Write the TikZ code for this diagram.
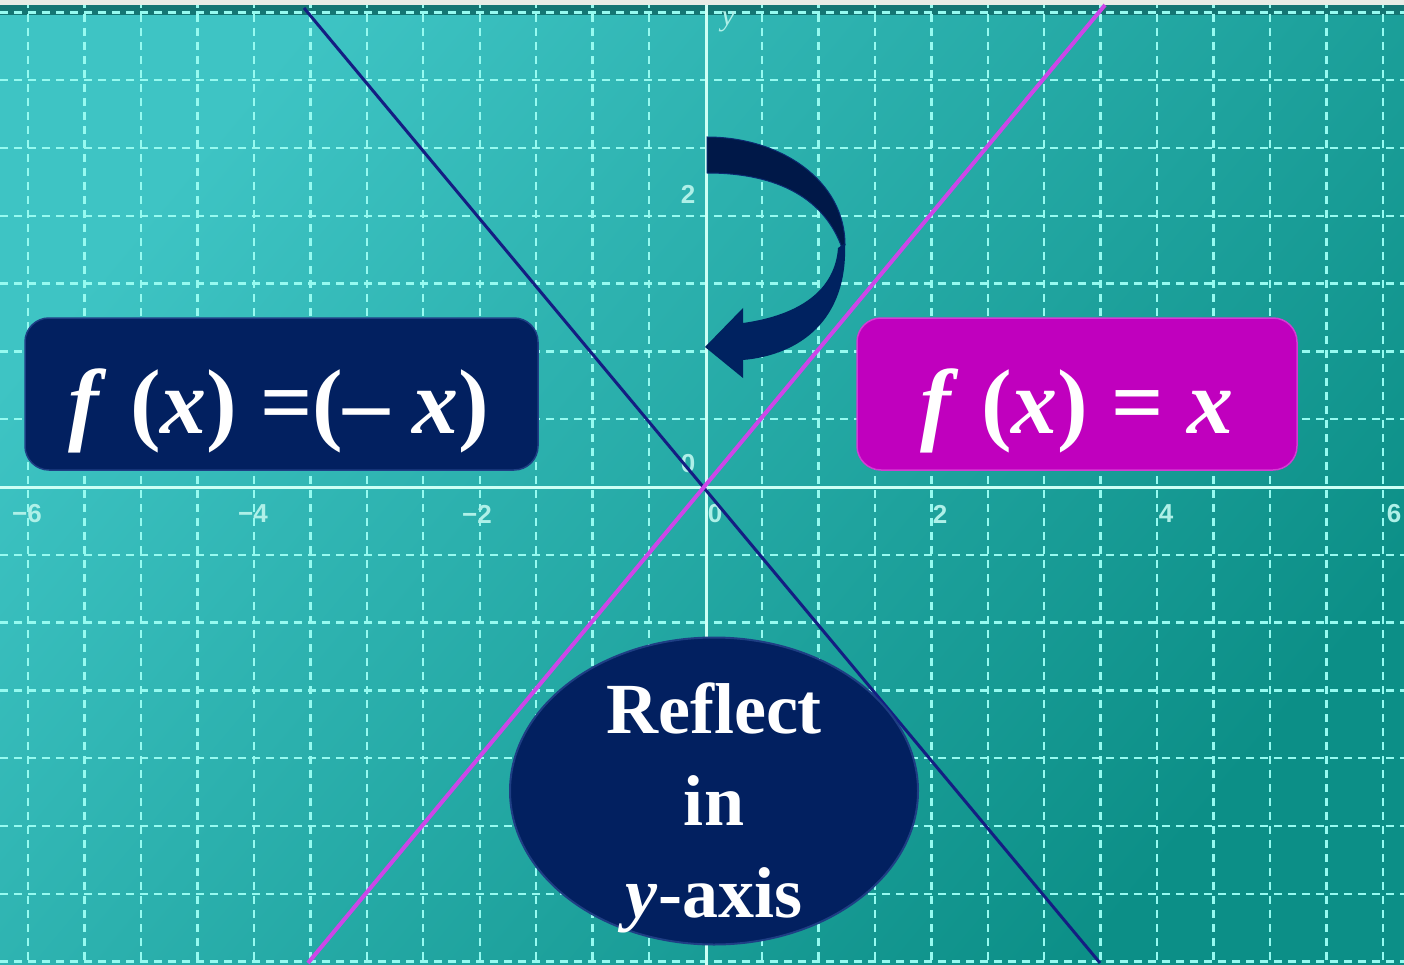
\documentclass[tikz,border=0pt]{standalone}
\usepackage{fontspec}
\setmainfont{Liberation Serif}
\newfontfamily\ticksans{Liberation Sans}
\usetikzlibrary{shapes.geometric}
\definecolor{bgTL}{RGB}{62,196,196}
\definecolor{bgBR}{RGB}{12,143,135}
\definecolor{gridc}{RGB}{150,250,240}
\definecolor{axisc}{RGB}{205,255,245}
\definecolor{tickc}{RGB}{175,240,232}
\definecolor{navy}{RGB}{2,32,96}
\definecolor{navyrim}{RGB}{30,62,132}
\definecolor{magbox}{RGB}{192,0,190}
\definecolor{magrim}{RGB}{212,60,212}
\definecolor{bluefnc}{RGB}{20,30,130}
\definecolor{purplefnc}{RGB}{205,70,232}
\definecolor{arrowdark}{RGB}{0,24,72}
\definecolor{arrowlight}{RGB}{0,34,96}
\definecolor{arrowrim}{RGB}{10,42,112}
\definecolor{topband}{RGB}{20,118,116}
\definecolor{topstrip}{RGB}{232,236,230}
\begin{document}
\begin{tikzpicture}[x=1pt,y=-1pt,
  gridline/.style={draw=gridc,line width=2.4pt,dash pattern=on 8pt off 6pt},
  axisline/.style={draw=axisc,line width=3pt},
  ticklabel/.style={text=tickc,font=\ticksans\bfseries\fontsize{26}{30}\selectfont,inner sep=0pt},
  eqbox/.style={rounded corners=24pt,inner sep=0pt,line width=1.5pt,minimum width=513pt,minimum height=152pt},
  eqtext/.style={text=white,inner sep=0pt,anchor=base,font=\fontsize{92}{100}\selectfont\bfseries},
  bluefn/.style={draw=bluefnc,line width=3pt},
  purplefn/.style={draw=purplefnc,line width=4pt}]
\useasboundingbox (0,0) rectangle (1404,965);
% background
\shade[top color=bgTL,bottom color=bgBR,shading angle=50] (0,0) rectangle (1404,965);
\fill[topband] (0,5) rectangle (1404,15);
% grid
\foreach \k in {-12,...,-1,1,2,...,12}
  \draw[gridline] ({705.5+56.45*\k},0) -- ({705.5+56.45*\k},965);
\foreach \k in {-7,...,-1,1,2,...,7}
  \draw[gridline] (0,{487+67.8*\k}) -- (1404,{487+67.8*\k});
% axes
\draw[axisline] (0,487) -- (1404,487);
\draw[axisline] (706,0) -- (706,965);
\fill[topstrip] (0,0) rectangle (1404,5);
% tick labels
\node[ticklabel] (xm6) at (27,514) {−6};
\node[ticklabel] (xm4) at (253,514) {−4};
\node[ticklabel] (xm2) at (477,514) {−2};
\node[ticklabel] (x0) at (715,514) {0};
\node[ticklabel] (x2) at (940,514) {2};
\node[ticklabel] (x4) at (1166,514) {4};
\node[ticklabel] (x6) at (1394,514) {6};
\node[ticklabel] (y0) at (688,464) {0};
\node[ticklabel] (y2) at (688,194) {2};
\node[text=tickc,font=\fontsize{30}{34}\selectfont\itshape,inner sep=0pt] (ylab) at (728,22) {y};
% function graphs
\draw[bluefn] (304,8) -- (1100,963);
\draw[purplefn] (308,963) -- (1105,5);
% curved arrow
\fill[arrowdark,draw=arrowrim,line width=1pt] (707,137) .. controls (780,137) and (845,180) .. (845,245) -- (842,248) .. controls (825,200) and (780,173) .. (707,173) -- cycle;
\fill[arrowlight] (845,243) .. controls (848,320) and (800,355) .. (743,360) -- (743,378) -- (705,347) -- (743,308) -- (743,323) .. controls (800,315) and (835,290) .. (838,248) -- cycle;
% equation boxes
\node[eqbox,fill=navy,draw=navyrim] (leftbox) at (281.5,394) {};
\node[eqtext] (lefteq) at (279,433) {\textit{f} (\textit{x}) =(– \textit{x})};
\node[eqbox,fill=magbox,draw=magrim,minimum width=440pt] (rightbox) at (1077,394) {};
\node[eqtext] (righteq) at (1076.5,433) {\textit{f} (\textit{x}) = \textit{x}};
% ellipse
\node[ellipse,fill=navy,draw=navyrim,line width=2pt,minimum width=408pt,minimum height=307pt,inner sep=0pt] (reflect) at (714,791) {};
\node[align=center,text=white,inner sep=0pt,font=\fontsize{72}{92}\selectfont\bfseries] (reflecttext) at (714,808) {Reflect\\in\\\textit{y}-axis};
\end{tikzpicture}
\end{document}
